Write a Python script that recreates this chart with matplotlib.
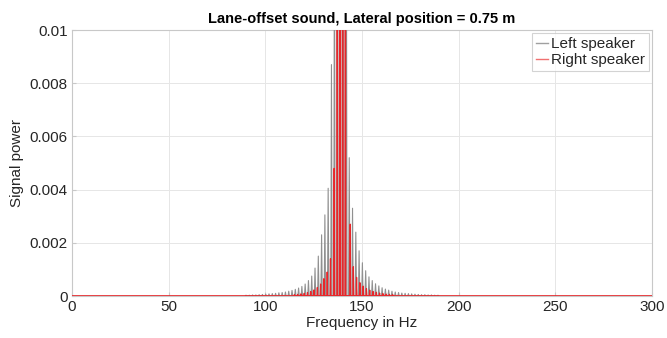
import numpy as np
import matplotlib
matplotlib.use("Agg")
import matplotlib.pyplot as plt
from matplotlib.lines import Line2D

plt.rcParams['font.family'] = ['Liberation Sans', 'DejaVu Sans']

# ---- data ----
left_freq = [90.0, 91.7, 93.4, 95.1, 96.8, 98.5, 100.2, 101.9, 103.6, 105.3,
             107.0, 108.7, 110.4, 112.1, 113.8, 115.5, 117.2, 118.9, 120.6, 122.3,
             124.0, 125.7, 127.4, 129.1, 130.8, 132.5, 134.2, 135.75, 137.3, 138.8,
             140.35, 141.9, 143.4, 145.1, 146.8, 148.5, 150.2, 151.9, 153.6, 155.3,
             157.0, 158.7, 160.4, 162.1, 163.8, 165.5, 167.2, 168.9, 170.6, 172.3,
             174.0, 175.7, 177.4, 179.1, 180.8, 182.5, 184.2, 185.9, 187.6, 189.3]
left_power = [0.00003, 0.00003, 0.00004, 0.00004, 0.00005, 0.00006, 0.00007, 0.00008, 0.00009, 0.00010,
              0.00012, 0.00013, 0.00015, 0.00018, 0.00021, 0.00025, 0.00030, 0.00036, 0.00045, 0.00058,
              0.00075, 0.00105, 0.00150, 0.00230, 0.00305, 0.00405, 0.00870, 0.0150, 0.0300, 0.0500,
              0.0300, 0.0150, 0.00520, 0.00330, 0.00240, 0.00170, 0.00125, 0.00095, 0.00072, 0.00058,
              0.00046, 0.00038, 0.00031, 0.00026, 0.00022, 0.00018, 0.00015, 0.00013, 0.00011, 0.00010,
              0.00009, 0.00008, 0.00007, 0.00006, 0.00005, 0.00005, 0.00004, 0.00004, 0.00003, 0.00003]

right_freq = [115.0, 116.7, 118.4, 120.1, 121.8, 123.5, 125.2, 126.9, 128.6, 130.3,
              132.0, 133.7, 135.6, 137.2, 138.6, 140.0, 141.4, 143.9, 145.5, 147.2,
              148.9, 150.6, 152.3, 154.0, 155.7, 157.4, 159.1, 160.8, 162.5, 164.2, 165.9]
right_power = [0.00005, 0.00006, 0.00008, 0.00010, 0.00013, 0.00017, 0.00023, 0.00032, 0.00045, 0.00065,
               0.00090, 0.00140, 0.00480, 0.0200, 0.0300, 0.0300, 0.0200, 0.00270, 0.00110, 0.00070,
               0.00050, 0.00037, 0.00028, 0.00022, 0.00017, 0.00014, 0.00011, 0.00009, 0.00007, 0.00006, 0.00005]

x_range = [0, 300]
y_range = [0, 0.01]
x_ticks = [0, 50, 100, 150, 200, 250, 300]
y_ticks = [0, 0.002, 0.004, 0.006, 0.008, 0.01]
y_ticklabels = ['0', '0.002', '0.004', '0.006', '0.008', '0.01']

GRAY = '#909090'
RED = '#e8262a'
TXT = '#262626'


def spikes(freq, power, half_width):
    f = np.asarray(freq)
    p = np.asarray(power)
    xs = np.column_stack([f - half_width, f, f + half_width]).ravel()
    ys = np.column_stack([np.zeros_like(p), p, np.zeros_like(p)]).ravel()
    return xs, ys


fig = plt.figure(figsize=(6.67, 3.38), dpi=100)
ax = fig.add_axes([72 / 667, (338 - 296) / 338, 580 / 667, 266 / 338])

ax.axhline(0, color=GRAY, lw=1.0, zorder=2)
xs, ys = spikes(left_freq, left_power, 0.35)
ax.plot(xs, ys, color=GRAY, lw=0.8, zorder=3)
ax.axhline(0, color=RED, lw=1.2, zorder=4)
xs, ys = spikes(right_freq, right_power, 0.2)
ax.plot(xs, ys, color=RED, lw=0.9, zorder=5)

ax.set_xlim(x_range)
ax.set_ylim(y_range)
ax.set_xticks(x_ticks)
ax.set_yticks(y_ticks)
ax.set_yticklabels(y_ticklabels)
ax.grid(True, color='#e6e6e6', lw=0.7)
ax.set_axisbelow(True)
for s in ax.spines.values():
    s.set_color('#c8c8c8')
    s.set_linewidth(0.8)
ax.tick_params(direction='in', length=3, color='#c8c8c8', labelcolor=TXT, labelsize=11, pad=3)

ax.set_title('Lane-offset sound, Lateral position = 0.75 m', fontsize=10.5,
             fontweight='bold', color='black', pad=5)
ax.set_xlabel('Frequency in Hz', fontsize=11, color=TXT, labelpad=1)
ax.set_ylabel('Signal power', fontsize=11, color=TXT, labelpad=4)

handles = [Line2D([], [], color='#a0a0a0', lw=1.0),
           Line2D([], [], color='#f07070', lw=1.0)]
leg = ax.legend(handles, ['Left speaker', 'Right speaker'], loc='upper right',
                fontsize=11, frameon=True, fancybox=False, handlelength=0.8,
                handletextpad=0.2, borderpad=0.25, labelspacing=0.15,
                borderaxespad=0.2, edgecolor='#c8c8c8')
leg.get_frame().set_linewidth(0.8)
for t in leg.get_texts():
    t.set_color(TXT)

fig.savefig('out.png', dpi=100)
